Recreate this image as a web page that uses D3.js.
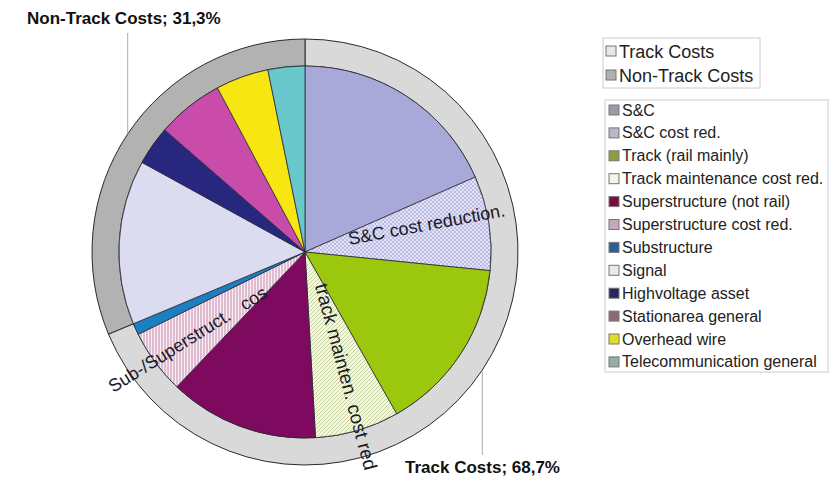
<!DOCTYPE html>
<html>
<head>
    <meta charset="utf-8" />
    <title>Track cost pie</title>
    <script type="text/javascript" src="https://cdn.jsdelivr.net/npm/d3@7"></script>
    <style>
        body { margin: 0; background: #fff; }
        text { font-family: "Liberation Sans", Arial, sans-serif; }
    </style>
</head>
<body>
<div id="graph1"></div>
<script>
    // outer ring: track vs non-track
    var groups = ["Track Costs", "Non-Track Costs"];
    var groupShares = [68.7, 31.3];
    var groupLabels = ["Track Costs; 68,7%", "Non-Track Costs; 31,3%"];
    var groupColors = ["#d9d9d9", "#b2b2b2"];

    // inner pie: cost items (percent of total)
    var categories = ["S&C", "S&C cost red.", "Track (rail mainly)", "Track maintenance cost red.",
        "Superstructure (not rail)", "Superstructure cost red.", "Substructure", "Signal",
        "Highvoltage asset", "Stationarea general", "Overhead wire", "Telecommunication general"];
    var shares = [18.4, 8.2, 15.2, 7.3, 13.0, 5.6, 1.0, 14.3, 3.4, 5.8, 4.6, 3.2];
    var colors = ["#a9a9d9", "url(#hatchSC)", "#9bc80c", "url(#hatchTrack)", "#7e0a60",
        "url(#hatchSuper)", "#1c7fc2", "#dcdcf0", "#27277f", "#c94cab", "#f8e612", "#68c8cc"];
    var legendColors = ["#9a9aa8", "#b8b8c8", "#8aa040", "#f4f4e8", "#7e0a40",
        "#c8a8c0", "#2a5f9a", "#e8e8f0", "#27275f", "#8a6a7a", "#e0e020", "#90b0a8"];

    // labels written inside slices
    var sliceLabels = { 1: "S&C cost reduction.", 3: "track mainten. cost red", 5: "Sub-/Superstruct.   cos" };
    // [radius, rotation, font size]
    var sliceLabelPos = { 1: [45, -10.5, 18], 3: [35, 75, 19], 5: [238, -32, 18] };

    var w = 834;
    var h = 481;
    var cx = 305, cy = 252;
    var rInner = 186, rOuter = 213;

    var svg = d3.select("#graph1")
        .append("svg")
        .attr("width", w)
        .attr("height", h);

    var defs = svg.append("defs");

    var p1 = defs.append("pattern").attr("id", "hatchSC")
        .attr("patternUnits", "userSpaceOnUse").attr("width", 4).attr("height", 4);
    p1.append("rect").attr("width", 4).attr("height", 4).attr("fill", "#bcbce4");
    p1.append("path").attr("d", "M0,0L4,4M4,0L0,4").attr("stroke", "#eeeefa").attr("stroke-width", 0.8);

    var p2 = defs.append("pattern").attr("id", "hatchTrack")
        .attr("patternUnits", "userSpaceOnUse").attr("width", 4).attr("height", 4);
    p2.append("rect").attr("width", 4).attr("height", 4).attr("fill", "#f6f8de");
    p2.append("path").attr("d", "M-1,1L1,-1M0,4L4,0M3,5L5,3").attr("stroke", "#b8c890").attr("stroke-width", 0.8);

    var p3 = defs.append("pattern").attr("id", "hatchSuper")
        .attr("patternUnits", "userSpaceOnUse").attr("width", 3).attr("height", 3);
    p3.append("rect").attr("width", 3).attr("height", 3).attr("fill", "#f8eef4");
    p3.append("path").attr("d", "M1,0L1,3").attr("stroke", "#c98aac").attr("stroke-width", 1);

    var chart = svg.append("g").attr("transform", "translate(" + cx + "," + cy + ")");

    var pie = d3.pie().sort(null).value(function (d) { return d; });

    var arcInner = d3.arc().innerRadius(0).outerRadius(rInner);
    var arcRing = d3.arc().innerRadius(rInner).outerRadius(rOuter);

    // ring
    var ringData = pie(groupShares);
    chart.selectAll("path.ring")
        .data(ringData)
        .enter()
        .append("path")
        .attr("class", "ring")
        .attr("d", arcRing)
        .attr("fill", function (d, i) { return groupColors[i]; })
        .attr("stroke", "#2a2a2a")
        .attr("stroke-width", 1);

    // slices
    var sliceData = pie(shares);
    chart.selectAll("path.slice")
        .data(sliceData)
        .enter()
        .append("path")
        .attr("class", "slice")
        .attr("d", arcInner)
        .attr("fill", function (d, i) { return colors[i]; })
        .attr("stroke", "#2a2a3a")
        .attr("stroke-width", 0.8);

    // slice labels along mid angle
    sliceData.forEach(function (d, i) {
        if (!sliceLabels[i]) return;
        var mid = (d.startAngle + d.endAngle) / 2;
        var r = sliceLabelPos[i][0];
        var x = r * Math.sin(mid);
        var y = -r * Math.cos(mid);
        chart.append("text")
            .attr("transform", "translate(" + x + "," + y + ") rotate(" + sliceLabelPos[i][1] + ")")
            .attr("font-size", sliceLabelPos[i][2] + "px")
            .attr("fill", "#1a1a28")
            .style("white-space", "pre")
            .text(sliceLabels[i]);
    });

    // group labels with leader lines
    var labelPos = [[405, 473], [27, 24]];
    var leaderEnd = [455, 33];
    ringData.forEach(function (d, i) {
        var mid = (d.startAngle + d.endAngle) / 2;
        var x = rOuter * Math.sin(mid);
        var y = -rOuter * Math.cos(mid);
        chart.append("line")
            .attr("x1", x).attr("y1", y)
            .attr("x2", x).attr("y2", leaderEnd[i] - cy)
            .attr("stroke", "#aaa")
            .attr("stroke-width", 1);
        svg.append("text")
            .attr("x", labelPos[i][0])
            .attr("y", labelPos[i][1])
            .attr("font-size", "17px")
            .attr("font-weight", "bold")
            .attr("fill", "#111")
            .text(groupLabels[i]);
    });

    // legend 1
    svg.append("rect").attr("x", 603).attr("y", 38).attr("width", 157).attr("height", 50)
        .attr("fill", "#fff").attr("stroke", "#ccc");
    var leg1 = svg.selectAll("g.leg1")
        .data(groups)
        .enter()
        .append("g")
        .attr("class", "leg1")
        .attr("transform", function (d, i) { return "translate(606," + (51 + i * 24) + ")"; });
    leg1.append("rect").attr("x", 0).attr("y", -5).attr("width", 10).attr("height", 10)
        .attr("fill", function (d, i) { return i == 0 ? "#e8e8e8" : "#b0b0b0"; })
        .attr("stroke", "#777");
    leg1.append("text").attr("x", 13).attr("y", 6.5)
        .attr("font-size", "18px").attr("fill", "#222")
        .text(function (d) { return d; });

    // legend 2
    svg.append("rect").attr("x", 605).attr("y", 100).attr("width", 223).attr("height", 272)
        .attr("fill", "#fff").attr("stroke", "#ccc");
    var leg2 = svg.selectAll("g.leg2")
        .data(categories)
        .enter()
        .append("g")
        .attr("class", "leg2")
        .attr("transform", function (d, i) { return "translate(609," + (110 + i * 22.9) + ")"; });
    leg2.append("rect").attr("x", 0).attr("y", -5).attr("width", 10).attr("height", 10)
        .attr("fill", function (d, i) { return legendColors[i]; })
        .attr("stroke", "#777");
    leg2.append("text").attr("x", 13).attr("y", 5.5)
        .attr("font-size", "16px").attr("fill", "#222")
        .text(function (d) { return d; });
</script>
</body>
</html>
